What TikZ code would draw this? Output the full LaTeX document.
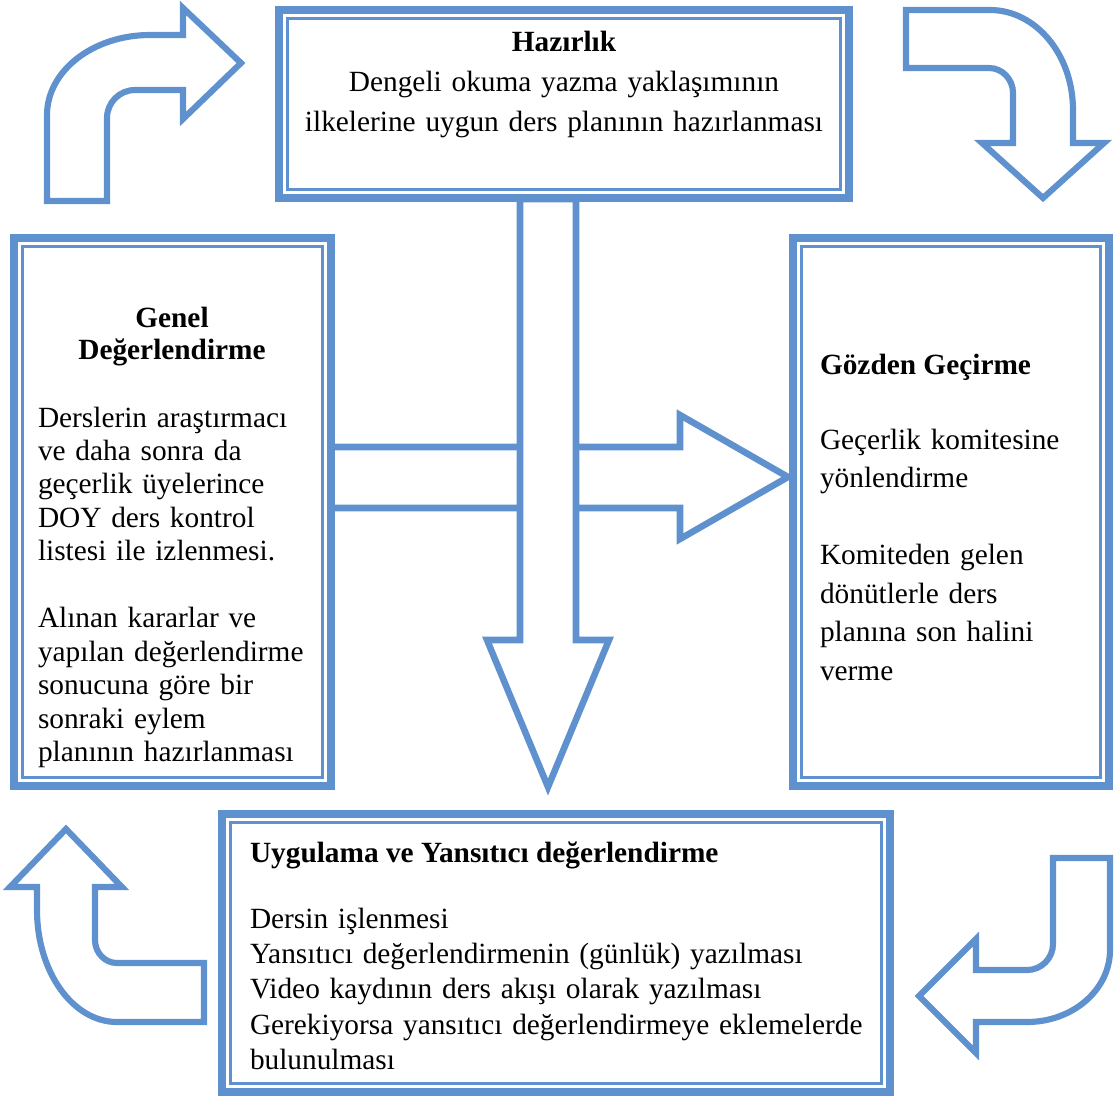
\documentclass[tikz,border=0pt]{standalone}
\usepackage{fontspec}
\setmainfont{Liberation Serif}
\usetikzlibrary{calc}
\definecolor{frame}{RGB}{94,145,205}

\begin{document}
\begin{tikzpicture}[x=0.75pt,y=-0.75pt,
  blockarrow/.style={draw=frame, line width=4.6pt, fill=white, line join=miter},
  mainarrow/.style={blockarrow, line width=4.9pt},
  panel/.style={rectangle, draw=frame, line width=6pt, fill=white, inner sep=0pt, outer sep=0pt},
  panelrule/.style={draw=frame, line width=1.9pt},
  txt/.style={inner sep=0pt, outer sep=0pt, font=\fontsize{22pt}{25pt}\selectfont},
]
\useasboundingbox (0,0) rectangle (1114,1099);

% curved corner arrows showing the cycle
\draw[blockarrow] (47,201) -- (107,201) -- (107,118)
  arc[start angle=180, end angle=270, radius=28] -- (183,90) -- (183,119)
  -- (241,63) -- (183,8) -- (183,35) -- (150,35)
  arc[start angle=270, end angle=180, x radius=103, y radius=80] -- cycle;

\draw[blockarrow] (906,10) -- (990,10)
  arc[start angle=270, end angle=360, x radius=83, y radius=100]
  -- (1073,143) -- (1104,143) -- (1043,198) -- (982,143) -- (1013,143) -- (1013,93)
  arc[start angle=0, end angle=-90, x radius=24, y radius=25] -- (906,68) -- cycle;

\draw[blockarrow] (66,829) -- (122,887) -- (95,887) -- (95,940)
  arc[start angle=180, end angle=90, x radius=22, y radius=23] -- (204,963)
  -- (204,1022) -- (117,1022)
  arc[start angle=90, end angle=180, x radius=80, y radius=112]
  -- (37,887) -- (10,887) -- cycle;

\draw[blockarrow] (1053,858) -- (1110,858) -- (1110,950)
  arc[start angle=0, end angle=90, x radius=83, y radius=72]
  -- (976,1022) -- (976,1053) -- (919,996) -- (976,939) -- (976,970) -- (1027,970)
  arc[start angle=90, end angle=0, radius=26] -- cycle;

% central arrows
\draw[mainarrow] (331,447) -- (680,447) -- (680,415) -- (788,477) -- (680,539)
  -- (680,508) -- (331,508) -- cycle;
\draw[mainarrow] (520,199) -- (520,640) -- (487,640) -- (548,787) -- (609,640)
  -- (576,640) -- (576,199) -- cycle;

% framed panels
\node[panel, minimum width=427.5pt, minimum height=141pt] (prep) at (564,104) {};
\node[panel, minimum width=237.75pt, minimum height=411pt] (overall) at (172.5,512) {};
\node[panel, minimum width=237pt, minimum height=411pt] (review) at (951,512) {};
\node[panel, minimum width=501pt, minimum height=208.5pt] (apply) at (556,953) {};

\foreach \b in {prep,overall,review,apply}
  \draw[panelrule] ($(\b.north west)+(8.5,8.5)$) rectangle ($(\b.south east)+(-8.5,-8.5)$);

% texts
\node[txt, anchor=base, text width=420pt, align=center,
  font=\fontsize{22pt}{30pt}\selectfont] (prepText) at (564,52)
  {\textbf{Hazırlık}\\Dengeli okuma yazma yaklaşımının\\ilkelerine uygun ders planının hazırlanması};

\node[txt, anchor=base, text width=220pt, align=center,
  font=\bfseries\fontsize{22pt}{24pt}\selectfont] (overallHead) at (172,327)
  {Genel\\Değerlendirme};
\node[txt, anchor=base west, text width=220pt, align=left,
  font=\fontsize{22pt}{25.1pt}\selectfont] (overallBody) at (38,427)
  {Derslerin araştırmacı\\ve daha sonra da\\geçerlik üyelerince\\DOY ders kontrol\\listesi ile izlenmesi.\\[25.1pt]Alınan kararlar ve\\yapılan değerlendirme\\sonucuna göre bir\\sonraki eylem\\planının hazırlanması};

\node[txt, anchor=base west, font=\bfseries\fontsize{22pt}{26pt}\selectfont]
  (reviewHead) at (820,374) {Gözden Geçirme};
\node[txt, anchor=base west, text width=210pt, align=left,
  font=\fontsize{22pt}{28.9pt}\selectfont] (reviewBody) at (820,449)
  {Geçerlik komitesine\\yönlendirme\\[28.9pt]Komiteden gelen\\dönütlerle ders\\planına son halini\\verme};

\node[txt, anchor=base west, font=\bfseries\fontsize{22pt}{26pt}\selectfont]
  (applyHead) at (250,862) {Uygulama ve Yansıtıcı değerlendirme};
\node[txt, anchor=base west, text width=490pt, align=left,
  font=\fontsize{22pt}{26.6pt}\selectfont] (applyBody) at (250,928)
  {Dersin işlenmesi\\Yansıtıcı değerlendirmenin (günlük) yazılması\\Video kaydının ders akışı olarak yazılması\\Gerekiyorsa yansıtıcı değerlendirmeye eklemelerde\\bulunulması};
\end{tikzpicture}
\end{document}
